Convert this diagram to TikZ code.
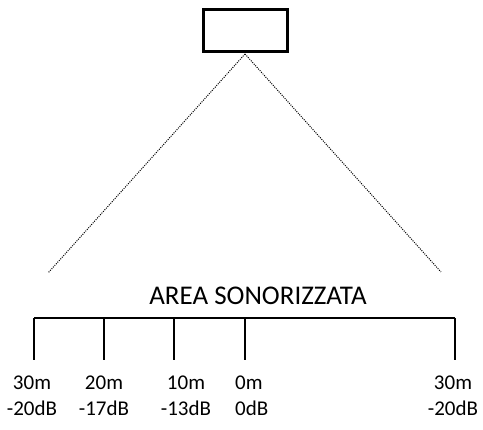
\documentclass[tikz,border=0pt]{standalone}
\usepackage{fontspec}
\setmainfont{Carlito}
\begin{document}
\begin{tikzpicture}[x=1pt,y=-1pt,
  box/.style={draw,line width=3pt,minimum width=84pt,minimum height=42pt,inner sep=0pt},
  ray/.style={line width=1pt,dash pattern=on 1pt off 1.2pt},
  tick/.style={line width=1.4pt},
  lbl/.style={font=\fontsize{21}{26}\selectfont,align=left,inner sep=0pt,anchor=north west}]
\useasboundingbox (0,0) rectangle (483,430);
\node[box] (src) at (245,31) {};
\coordinate (apex) at (245,54);
\coordinate (lend) at (48,273);
\coordinate (rend) at (441,272);
\draw[ray] (apex) -- (lend);
\draw[ray] (apex) -- (rend);
\node[font=\fontsize{27}{30}\selectfont,inner sep=0pt] (title) at (258,296) {AREA SONORIZZATA};
\coordinate (b0) at (34,318);
\coordinate (b1) at (104,318);
\coordinate (b2) at (174,318);
\coordinate (b3) at (245,318);
\coordinate (b4) at (455,318);
\coordinate (t0) at (34,360);
\coordinate (t1) at (104,360);
\coordinate (t2) at (174,360);
\coordinate (t3) at (245,360);
\coordinate (t4) at (455,360);
\draw[line width=2.5pt] (b0) -- (b4);
\foreach \i in {0,...,4} \draw[tick] (b\i) -- (t\i);
\node[lbl,align=center,anchor=north] (l0) at (32,376) {30m\\-20dB};
\node[lbl,align=center,anchor=north] (l1) at (104,376) {20m\\-17dB};
\node[lbl,align=center,anchor=north] (l2) at (186,376) {10m\\-13dB};
\node[lbl] (l3) at (235,376) {0m\\0dB};
\node[lbl,align=center,anchor=north] (l4) at (453,376) {30m\\-20dB};
\end{tikzpicture}
\end{document}
